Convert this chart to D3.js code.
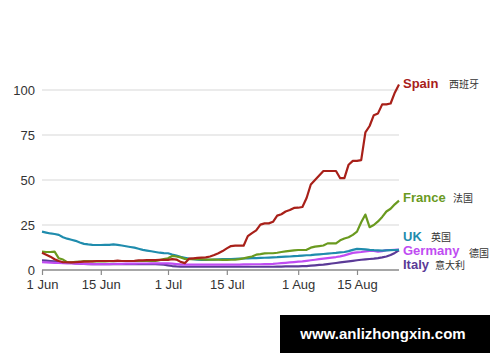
<!DOCTYPE html>
<html>
<head>
<meta charset="utf-8">
<script src="https://cdn.jsdelivr.net/npm/d3@7"></script>
<style>
body{margin:0;background:#fff;}
svg{display:block;}
</style>
</head>
<body>
<svg id="chart"></svg>
<script>

var width=500, height=362;

// first day of the series, one value per day
var startDate=new Date(2020,5,1);

var countries=["Spain","France","UK","Germany","Italy"];
var countriesZh=["西班牙","法国","英国","德国","意大利"];
var countryColors=["#a82019","#6a9a1f","#1f8cad","#c04cf2","#5b3a97"];

var spain=[9.6,8.5,7.4,6,5,4.3,4.3,4.2,4.3,4.5,
	4.6,4.6,4.8,5,5,5,5,5,5.2,5,
	5,5,5.1,5.3,5.3,5.5,5.5,5.5,5.6,5.6,
	5.6,6,5.8,4.5,3.8,6.3,6.5,6.7,6.9,7,
	7.5,8.3,9.3,10.5,12,13.3,13.5,13.5,13.5,18.8,
	20.5,22,25.2,25.9,25.9,26.8,30.2,31,32.5,33.3,
	34.5,34.6,35,40,47.5,50,52.5,55,55,55,
	55,51,51,58.5,60.6,60.6,61,76.5,80,86,
	87,92,92,92.5,98.5,103];

var france=[10.2,10,10,10.2,6.5,5.8,4.3,4.3,4.5,4.6,
	5,5,4.8,4.8,4.8,4.8,4.9,4.9,5,5,
	5,5,5,5,5,5,5,5,5.5,6,
	6.5,7.8,7.5,7,6.2,6,6,6,5.9,5.8,
	5.8,5.8,5.7,5.6,5.6,5.7,5.8,6,6.5,7,
	7.5,8.5,8.8,9.2,9.3,9.3,9.6,10,10.3,10.6,
	10.9,11.1,11.1,11.2,12.4,13,13.3,13.6,14.8,14.8,
	14.8,16.5,17.5,18.2,19.5,21.3,26.5,30.8,23.8,25,
	27,29.5,32.5,34,36.5,38.5];

var uk=[21.3,20.8,20.3,20,19.5,18.2,17.4,16.8,16.2,15.3,
	14.5,14.2,14,13.9,13.9,14,14,14.2,14,13.6,
	13.2,12.8,12.4,11.8,11.2,10.8,10.4,10,9.6,9.4,
	9.3,8.6,8,7.3,6.8,6.3,6,5.8,5.6,5.6,
	5.7,5.8,5.9,6,6,6.1,6.2,6.3,6.4,6.5,
	6.6,6.6,6.7,6.8,6.9,7,7.1,7.3,7.4,7.5,
	7.7,7.8,8,8.2,8.3,8.5,8.7,8.9,9.1,9.3,
	9.5,9.8,10,10.5,11.2,11.7,11.6,11.5,11.2,11,
	10.9,10.8,10.9,11,11.1,11.2];

var germany=[4.3,4.2,4.1,4,3.9,3.8,3.7,3.6,3.5,3.5,
	3.4,3.4,3.3,3.3,3.3,3.3,3.3,3.4,3.4,3.4,
	3.5,3.5,3.5,3.6,3.6,3.6,3.7,3.7,3.7,3.7,
	3.7,3.5,3.3,3.1,3,3,3,3,3,3,
	3,3,3,3,3,3,3,3,3.1,3.1,
	3.2,3.2,3.2,3.3,3.3,3.4,3.6,3.8,4,4.2,
	4.4,4.6,4.8,5.1,5.4,5.7,6,6.3,6.6,6.9,
	7.2,7.6,8.1,8.8,9.5,9.8,10,10.3,10.6,10.6,
	10.2,10.5,11,11.1,11.2,11.3];

var italy=[5.3,5.2,5,4.8,4.6,4.3,4.1,3.9,3.7,3.5,
	3.4,3.3,3.3,3.2,3.2,3.2,3.2,3.2,3.2,3.2,
	3.2,3.2,3.2,3.2,3.2,3.2,3.2,3.2,3.1,3,
	2.6,2.2,2,1.9,1.8,1.8,1.8,1.8,1.8,1.8,
	1.8,1.8,1.8,1.8,1.8,1.8,1.8,1.8,1.8,1.8,
	1.8,1.8,1.8,1.8,1.8,1.8,1.9,1.9,2,2,
	2,2,2.1,2.2,2.4,2.6,2.8,3,3.3,3.6,
	3.9,4.2,4.5,4.8,5.1,5.4,5.7,5.9,6.1,6.3,
	6.6,7,7.5,8.3,9.5,11];

var seriesValues=[spain,france,uk,germany,italy];

var yTicks=[0,25,50,75,100];
var xTickDates=[new Date(2020,5,1),new Date(2020,5,15),new Date(2020,6,1),new Date(2020,6,15),new Date(2020,7,1),new Date(2020,7,15)];
var xTickLabels=["1 Jun","15 Jun","1 Jul","15 Jul","1 Aug","15 Aug"];

// label nudges (px) so the end labels do not overlap
var labelY=[88,202,241,255,269];
var zhOffset=[46,50,28,66,32];

var svg=d3.select("#chart")
	.attr("width",width)
	.attr("height",height);

var marginLeft=42, plotRight=399;

var endDate=d3.timeDay.offset(startDate,spain.length-1);

var xScale=d3.scaleTime()
	.domain([startDate,endDate])
	.range([marginLeft,plotRight]);

var yScale=d3.scaleLinear()
	.domain([0,100])
	.range([270,90]);

//gridlines
svg.selectAll("line.grid")
	.data(yTicks.filter(function(d){return d>0;}))
	.enter()
	.append("line")
	.attr("class","grid")
	.attr("x1",marginLeft)
	.attr("x2",plotRight)
	.attr("y1",function(d){return yScale(d);})
	.attr("y2",function(d){return yScale(d);})
	.style("stroke","#e4e4e4")
	.style("stroke-width","1.5px");

//y labels
svg.selectAll("text.ylab")
	.data(yTicks)
	.enter()
	.append("text")
	.attr("class","ylab")
	.attr("x",35)
	.attr("y",function(d){return yScale(d);})
	.attr("dy",".35em")
	.attr("text-anchor","end")
	.style("font","13px 'Liberation Sans', Arial, sans-serif")
	.style("fill","#333")
	.text(function(d){return d;});

//x axis
var xAxis=d3.axisBottom(xScale)
	.tickValues(xTickDates)
	.tickSize(5)
	.tickSizeOuter(0)
	.tickFormat(function(d,i){return xTickLabels[i];});

var gx=svg.append("g")
	.attr("transform","translate(0,270)")
	.call(xAxis);

gx.select(".domain")
	.attr("d","M"+marginLeft+",0H"+plotRight)
	.style("stroke","#8a8a8a")
	.style("stroke-width","1.5px");
gx.selectAll(".tick line")
	.style("stroke","#8a8a8a")
	.style("stroke-width","1.2px");
gx.selectAll(".tick text")
	.attr("y",10)
	.style("font","13px 'Liberation Sans', Arial, sans-serif")
	.style("fill","#333");

//lines
var line=d3.line()
	.x(function(d,i){return xScale(d3.timeDay.offset(startDate,i));})
	.y(function(d){return yScale(d);})
	.curve(d3.curveLinear);

// draw back to front so Spain sits on top
var drawOrder=[4,3,2,1,0];
drawOrder.forEach(function(k){
	svg.append("path")
		.datum(seriesValues[k])
		.attr("class","line")
		.attr("d",line)
		.style("stroke",countryColors[k])
		.style("stroke-width","2.2px")
		.style("stroke-linejoin","round")
		.style("fill","none");
});

//end labels
countries.forEach(function(c,k){
	svg.append("text")
		.attr("x",403)
		.attr("y",labelY[k])
		.attr("text-anchor","start")
		.style("font","bold 13px 'Liberation Sans', Arial, sans-serif")
		.style("fill",countryColors[k])
		.text(c);

	svg.append("text")
		.attr("x",403+zhOffset[k])
		.attr("y",labelY[k]+(k==3?2:0))
		.attr("text-anchor","start")
		.style("font","10px 'Noto Sans CJK SC', sans-serif")
		.style("fill","#333")
		.text(countriesZh[k]);
});

//watermark box
svg.append("rect")
	.attr("x",280)
	.attr("y",315)
	.attr("width",210)
	.attr("height",38)
	.attr("fill","#000");

svg.append("text")
	.attr("x",383)
	.attr("y",339)
	.attr("text-anchor","middle")
	.style("font","bold 15px 'Liberation Sans', Arial, sans-serif")
	.style("fill","#fff")
	.text("www.anlizhongxin.com");

</script>
</body>
</html>
